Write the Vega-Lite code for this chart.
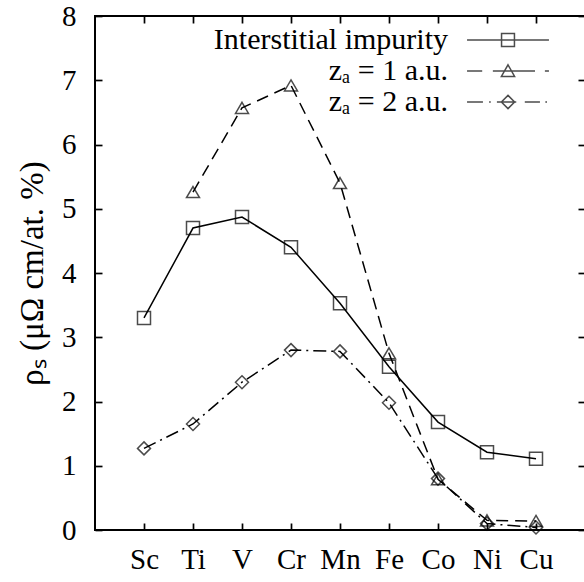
{
  "$schema": "https://vega.github.io/schema/vega-lite/v6.json",
  "width": 490,
  "height": 514,
  "autosize": {"type": "none"},
  "padding": {"left": 95, "top": 16, "right": 0, "bottom": 52},
  "background": "white",
  "config": {
    "view": {"stroke": "black", "strokeWidth": 2},
    "font": "Liberation Serif",
    "axis": {
      "domain": false,
      "grid": false,
      "tickColor": "black",
      "tickWidth": 1.7,
      "tickSize": -7,
      "labelFont": "Liberation Serif",
      "labelFontSize": 29,
      "labelColor": "black",
      "titleFont": "Liberation Serif",
      "titleFontSize": 33,
      "titleFontWeight": "normal",
      "titleColor": "black"
    },
    "legend": {
      "orient": "none",
      "legendX": 109,
      "legendY": 8,
      "padding": 0,
      "labelFont": "Liberation Serif",
      "labelFontSize": 30,
      "labelColor": "black",
      "labelLimit": 500,
      "labelAlign": "right",
      "labelOffset": -76,
      "symbolOffset": 288,
      "symbolSize": 900,
      "symbolStrokeWidth": 1.5,
      "symbolStrokeColor": "black",
      "symbolFillColor": "transparent",
      "rowPadding": 0
    }
  },
  "data": {
    "values": [
      {"el": "Sc", "z": 21, "series": "Interstitial impurity", "v": 3.30},
      {"el": "Ti", "z": 22, "series": "Interstitial impurity", "v": 4.70},
      {"el": "V", "z": 23, "series": "Interstitial impurity", "v": 4.87},
      {"el": "Cr", "z": 24, "series": "Interstitial impurity", "v": 4.40},
      {"el": "Mn", "z": 25, "series": "Interstitial impurity", "v": 3.53},
      {"el": "Fe", "z": 26, "series": "Interstitial impurity", "v": 2.54},
      {"el": "Co", "z": 27, "series": "Interstitial impurity", "v": 1.68},
      {"el": "Ni", "z": 28, "series": "Interstitial impurity", "v": 1.21},
      {"el": "Cu", "z": 29, "series": "Interstitial impurity", "v": 1.11},
      {"el": "Ti", "z": 22, "series": "zₐ = 1 a.u.", "v": 5.26},
      {"el": "V", "z": 23, "series": "zₐ = 1 a.u.", "v": 6.57},
      {"el": "Cr", "z": 24, "series": "zₐ = 1 a.u.", "v": 6.92},
      {"el": "Mn", "z": 25, "series": "zₐ = 1 a.u.", "v": 5.40},
      {"el": "Fe", "z": 26, "series": "zₐ = 1 a.u.", "v": 2.75},
      {"el": "Co", "z": 27, "series": "zₐ = 1 a.u.", "v": 0.79},
      {"el": "Ni", "z": 28, "series": "zₐ = 1 a.u.", "v": 0.15},
      {"el": "Cu", "z": 29, "series": "zₐ = 1 a.u.", "v": 0.14},
      {"el": "Sc", "z": 21, "series": "zₐ = 2 a.u.", "v": 1.27},
      {"el": "Ti", "z": 22, "series": "zₐ = 2 a.u.", "v": 1.65},
      {"el": "V", "z": 23, "series": "zₐ = 2 a.u.", "v": 2.30},
      {"el": "Cr", "z": 24, "series": "zₐ = 2 a.u.", "v": 2.80},
      {"el": "Mn", "z": 25, "series": "zₐ = 2 a.u.", "v": 2.78},
      {"el": "Fe", "z": 26, "series": "zₐ = 2 a.u.", "v": 1.98},
      {"el": "Co", "z": 27, "series": "zₐ = 2 a.u.", "v": 0.80},
      {"el": "Ni", "z": 28, "series": "zₐ = 2 a.u.", "v": 0.10},
      {"el": "Cu", "z": 29, "series": "zₐ = 2 a.u.", "v": 0.04}
    ]
  },
  "layer": [
    {
      "transform": [{"filter": {"field": "series", "equal": "Interstitial impurity"}}],
      "mark": {"type": "line", "color": "black", "strokeWidth": 1.5},
      "encoding": {
        "x": {
          "field": "el", "type": "ordinal",
          "scale": {"type": "point", "padding": 1, "domain": ["Sc", "Ti", "V", "Cr", "Mn", "Fe", "Co", "Ni", "Cu"]},
          "axis": {"orient": "bottom", "title": null, "labelAngle": 0, "labelPadding": 22, "labelFont": "Liberation Serif"}
        },
        "y": {
          "field": "v", "type": "quantitative",
          "scale": {"domain": [0, 8], "nice": false},
          "axis": {"orient": "left", "values": [0, 1, 2, 3, 4, 5, 6, 7, 8], "format": "d", "title": "ρₛ (μΩ cm/at. %)", "titleFont": "Liberation Serif", "labelFont": "Liberation Serif", "labelPadding": 26, "titlePadding": 12}
        },
        "order": {"field": "z", "type": "quantitative"}
      }
    },
    {
      "transform": [{"filter": {"field": "series", "equal": "zₐ = 1 a.u."}}],
      "mark": {"type": "line", "color": "black", "strokeWidth": 1.5, "strokeDash": [12, 7]},
      "encoding": {
        "x": {"field": "el", "type": "ordinal", "axis": null},
        "y": {"field": "v", "type": "quantitative", "axis": null},
        "order": {"field": "z", "type": "quantitative"}
      }
    },
    {
      "transform": [{"filter": {"field": "series", "equal": "zₐ = 2 a.u."}}],
      "mark": {"type": "line", "color": "black", "strokeWidth": 1.5, "strokeDash": [13, 5, 2, 5]},
      "encoding": {
        "x": {"field": "el", "type": "ordinal", "axis": null},
        "y": {"field": "v", "type": "quantitative", "axis": null},
        "order": {"field": "z", "type": "quantitative"}
      }
    },
    {
      "transform": [{"filter": {"field": "series", "equal": "Interstitial impurity"}}],
      "mark": {"type": "point", "color": "black", "filled": false, "strokeWidth": 1.5, "size": 169, "shape": "M-1,-1H1V1H-1Z"},
      "encoding": {
        "x": {"field": "el", "type": "ordinal", "axis": null},
        "y": {"field": "v", "type": "quantitative", "axis": null}
      }
    },
    {
      "transform": [{"filter": {"field": "series", "equal": "zₐ = 1 a.u."}}],
      "mark": {"type": "point", "color": "black", "filled": false, "strokeWidth": 1.5, "size": 169, "shape": "M0,-0.85L1,0.85H-1Z"},
      "encoding": {
        "x": {"field": "el", "type": "ordinal", "axis": null},
        "y": {"field": "v", "type": "quantitative", "axis": null}
      }
    },
    {
      "transform": [{"filter": {"field": "series", "equal": "zₐ = 2 a.u."}}],
      "mark": {"type": "point", "color": "black", "filled": false, "strokeWidth": 1.5, "size": 169, "shape": "M0,-1L1,0L0,1L-1,0Z"},
      "encoding": {
        "x": {"field": "el", "type": "ordinal", "axis": null},
        "y": {"field": "v", "type": "quantitative", "axis": null}
      }
    },
    {
      "transform": [{"filter": "datum.v < -100"}],
      "mark": {"type": "point", "color": "black", "filled": false, "strokeWidth": 1.5},
      "encoding": {
        "x": {"field": "el", "type": "ordinal", "axis": null},
        "y": {"field": "v", "type": "quantitative", "axis": null},
        "shape": {
          "field": "series", "type": "nominal",
          "scale": {
            "domain": ["Interstitial impurity", "zₐ = 1 a.u.", "zₐ = 2 a.u."],
            "range": [
              "M-2.73,0H2.73M-0.43,-0.43H0.43V0.43H-0.43Z",
              "M-2.73,0H-1.72M-1.01,0H1.8M2.46,0H2.73M0,-0.41L0.44,0.36H-0.44Z",
              "M-2.73,0H-1.67M-1.26,0H-1.15M-0.74,0H0.55M1.12,0H2.13M2.49,0H2.6M0,-0.44L0.44,0L0,0.44L-0.44,0Z"
            ]
          },
          "legend": {"title": null}
        }
      }
    },
    {
      "mark": {"type": "point", "opacity": 0},
      "encoding": {
        "x": {"field": "el", "type": "ordinal", "axis": {"orient": "top", "labels": false, "title": null}},
        "y": {"field": "v", "type": "quantitative", "axis": {"orient": "right", "labels": false, "title": null, "values": [0, 1, 2, 3, 4, 5, 6, 7, 8]}}
      }
    }
  ],
  "resolve": {"axis": {"x": "independent", "y": "independent"}}
}
